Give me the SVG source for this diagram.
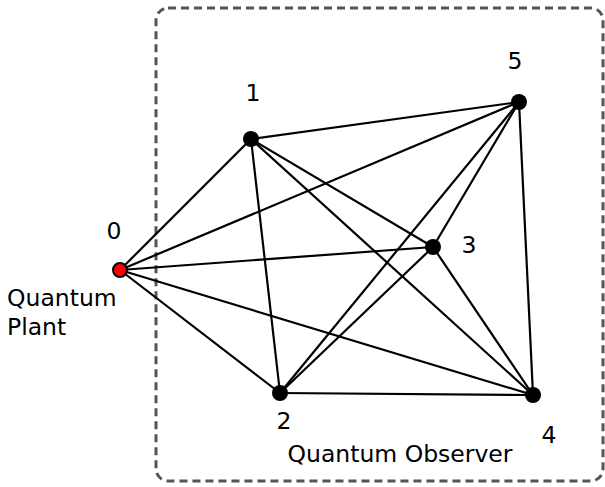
<svg xmlns="http://www.w3.org/2000/svg" width="605" height="487" viewBox="0 0 605 487">
<style>
.box{fill:none;stroke:#555;stroke-width:3;stroke-dasharray:8 5}
.e{stroke:#000;stroke-width:2.2}
.n{fill:#000}
.t{font-family:"DejaVu Sans",sans-serif;font-size:23.5px;fill:#000}
</style>
<rect class="box" x="156" y="8" width="447" height="473" rx="12"/>
<g id="edges">
<line class="e" x1="120" y1="270" x2="251" y2="139"/>
<line class="e" x1="120" y1="270" x2="519" y2="102"/>
<line class="e" x1="120" y1="270" x2="433" y2="247"/>
<line class="e" x1="120" y1="270" x2="280" y2="393"/>
<line class="e" x1="120" y1="270" x2="533" y2="395"/>
<line class="e" x1="251" y1="139" x2="519" y2="102"/>
<line class="e" x1="251" y1="139" x2="433" y2="247"/>
<line class="e" x1="251" y1="139" x2="533" y2="395"/>
<line class="e" x1="251" y1="139" x2="280" y2="393"/>
<line class="e" x1="519" y1="102" x2="433" y2="247"/>
<line class="e" x1="519" y1="102" x2="280" y2="393"/>
<line class="e" x1="519" y1="102" x2="533" y2="395"/>
<line class="e" x1="433" y1="247" x2="280" y2="393"/>
<line class="e" x1="433" y1="247" x2="533" y2="395"/>
<line class="e" x1="280" y1="393" x2="533" y2="395"/>
</g>
<g id="n0"><circle cx="120" cy="270" r="7" fill="#f00" stroke="#000" stroke-width="2"/><text class="t" x="114" y="239" text-anchor="middle">0</text></g>
<g id="n1"><circle class="n" cx="251" cy="139" r="8"/><text class="t" x="253" y="101" text-anchor="middle">1</text></g>
<g id="n2"><circle class="n" cx="280" cy="393" r="8"/><text class="t" x="284" y="429" text-anchor="middle">2</text></g>
<g id="n3"><circle class="n" cx="433" cy="247" r="8"/><text class="t" x="469" y="253" text-anchor="middle">3</text></g>
<g id="n4"><circle class="n" cx="533" cy="395" r="8"/><text class="t" x="549" y="443" text-anchor="middle">4</text></g>
<g id="n5"><circle class="n" cx="519" cy="102" r="8"/><text class="t" x="515" y="69" text-anchor="middle">5</text></g>
<g id="plant"><text class="t" x="7" y="306">Quantum</text><text class="t" x="7" y="335">Plant</text></g>
<g id="observer"><text class="t" x="400" y="462" text-anchor="middle">Quantum Observer</text></g>
</svg>
